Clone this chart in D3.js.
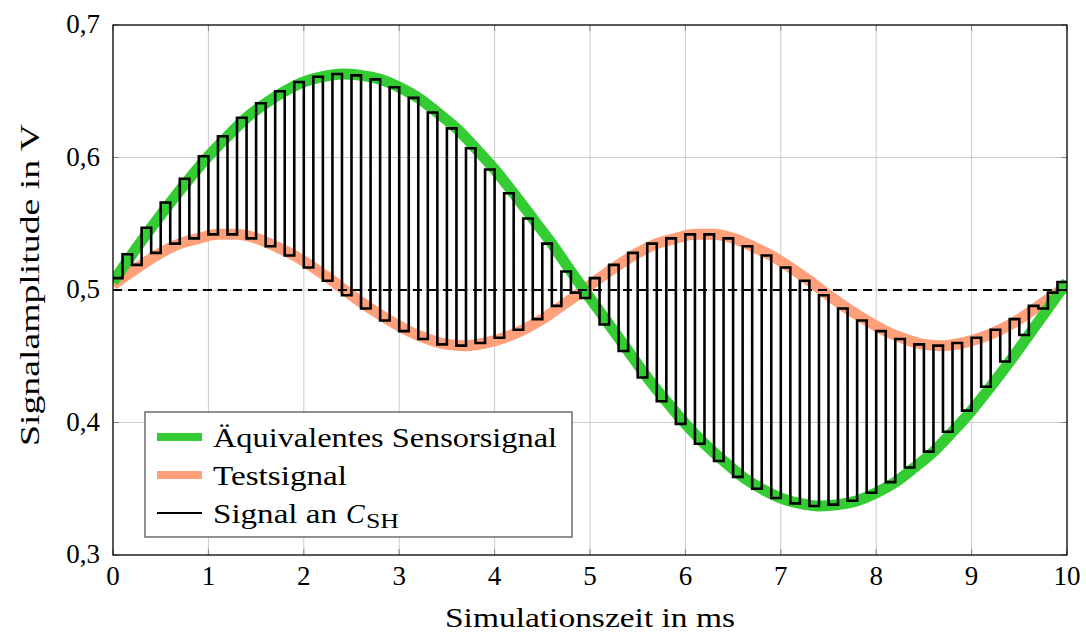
<!DOCTYPE html>
<html>
<head>
<meta charset="utf-8">
<script src="https://cdn.jsdelivr.net/npm/d3@7"></script>
<style>
  body { margin: 0; background: #fff; }
</style>
</head>
<body>
<svg id="vis" width="1086" height="633" font-family="'Liberation Serif', serif"></svg>
<script>
// axis ticks
const xTicks = [0, 1, 2, 3, 4, 5, 6, 7, 8, 9, 10]
const yTicks = [0.3, 0.4, 0.5, 0.6, 0.7]

// sensor signal (green), read every 0.2 ms
const greenTime = d3.range(0, 10.001, 0.2)
const greenVals = [0.506, 0.527, 0.547, 0.566, 0.584, 0.601, 0.616, 0.630, 0.641, 0.650,
  0.657, 0.661, 0.663, 0.662, 0.659, 0.653, 0.645, 0.634, 0.622, 0.607,
  0.591, 0.573, 0.554, 0.535, 0.514, 0.494, 0.474, 0.454, 0.434, 0.416,
  0.399, 0.384, 0.371, 0.359, 0.350, 0.343, 0.339, 0.337, 0.338, 0.341,
  0.347, 0.355, 0.366, 0.378, 0.393, 0.409, 0.427, 0.446, 0.466, 0.486, 0.506]

// test signal (orange), read at 0, 0.1, 0.3 ... 9.9, 10 ms
const orangeTime = [0, ...d3.range(0.1, 10, 0.2), 10]
const orangeVals = [0.504,
  0.509, 0.519, 0.528, 0.535, 0.539, 0.542, 0.542, 0.539, 0.533, 0.526,
  0.517, 0.507, 0.496, 0.486, 0.477, 0.469, 0.463, 0.459, 0.458, 0.460,
  0.464, 0.470, 0.478, 0.488, 0.498,
  0.509, 0.519, 0.528, 0.535, 0.539, 0.542, 0.542, 0.539, 0.533, 0.526,
  0.517, 0.507, 0.496, 0.486, 0.477, 0.469, 0.463, 0.459, 0.458, 0.460,
  0.464, 0.470, 0.478, 0.488, 0.498,
  0.504]

const refLevel = 0.5

const legendLabels = ["Äquivalentes Sensorsignal", "Testsignal", "Signal an"]
const green = "#33cc33"
const orange = "#ffa07a"

const svg = d3.select("#vis")
const margin = { top: 25, right: 19, bottom: 78, left: 113 }
const width = 1086 - margin.left - margin.right
const height = 633 - margin.top - margin.bottom

const x = d3.scaleLinear().domain([0, 10]).range([0, width])
const y = d3.scaleLinear().domain([0.3, 0.7]).range([height, 0])

const g = svg.append("g").attr("transform", `translate(${margin.left},${margin.top})`)

g.append("clipPath").attr("id", "clip")
  .append("rect").attr("width", width).attr("height", height)

// grid
g.append("g").selectAll("line").data(xTicks.slice(1, -1)).join("line")
  .attr("x1", d => x(d)).attr("x2", d => x(d)).attr("y1", 0).attr("y2", height)
  .attr("stroke", "#cccccc").attr("stroke-width", 1)
g.append("g").selectAll("line").data(yTicks.slice(1, -1)).join("line")
  .attr("y1", d => y(d)).attr("y2", d => y(d)).attr("x1", 0).attr("x2", width)
  .attr("stroke", "#cccccc").attr("stroke-width", 1)

// small inner tick marks
const tl = 6
g.append("g").selectAll("line").data(xTicks).join("line")
  .attr("x1", d => x(d)).attr("x2", d => x(d)).attr("y1", height).attr("y2", height - tl)
  .attr("stroke", "#888").attr("stroke-width", 1)
g.append("g").selectAll("line").data(xTicks).join("line")
  .attr("x1", d => x(d)).attr("x2", d => x(d)).attr("y1", 0).attr("y2", tl)
  .attr("stroke", "#888").attr("stroke-width", 1)
g.append("g").selectAll("line").data(yTicks).join("line")
  .attr("y1", d => y(d)).attr("y2", d => y(d)).attr("x1", 0).attr("x2", tl)
  .attr("stroke", "#888").attr("stroke-width", 1)
g.append("g").selectAll("line").data(yTicks).join("line")
  .attr("y1", d => y(d)).attr("y2", d => y(d)).attr("x1", width).attr("x2", width - tl)
  .attr("stroke", "#888").attr("stroke-width", 1)

const plot = g.append("g").attr("clip-path", "url(#clip)")

// thick smooth curves
const smooth = d3.line().x(d => x(d[0])).y(d => y(d[1])).curve(d3.curveMonotoneX)
plot.append("path")
  .datum(orangeTime.map((t, i) => [t, orangeVals[i]]))
  .attr("d", smooth).attr("fill", "none").attr("stroke", orange).attr("stroke-width", 11)
plot.append("path")
  .datum(greenTime.map((t, i) => [t, greenVals[i]]))
  .attr("d", smooth).attr("fill", "none").attr("stroke", green).attr("stroke-width", 11)

// reference line
plot.append("line")
  .attr("x1", 0).attr("x2", width).attr("y1", y(refLevel)).attr("y2", y(refLevel))
  .attr("stroke", "#000").attr("stroke-width", 2.2).attr("stroke-dasharray", "9,6")

// sample and hold signal: alternates test value and sensor value every 0.1 ms
const steps = []
for (let k = 0; k < 50; k++) {
  steps.push([greenTime[k], orangeVals[k + 1]])
  steps.push([orangeTime[k + 1], greenVals[k + 1]])
}
steps.push([10, greenVals[50]])
const stepLine = d3.line().x(d => x(d[0])).y(d => y(d[1])).curve(d3.curveStepAfter)
plot.append("path").datum(steps).attr("d", stepLine)
  .attr("fill", "none").attr("stroke", "#000").attr("stroke-width", 2.6).attr("stroke-linejoin", "miter")

// axis box
g.append("rect").attr("width", width).attr("height", height)
  .attr("fill", "none").attr("stroke", "#000").attr("stroke-width", 1.3)

// tick labels
const fmt = d => d3.format(".1f")(d).replace(".", ",")
g.append("g").selectAll("text").data(xTicks).join("text")
  .attr("x", d => x(d)).attr("y", height + 30)
  .attr("text-anchor", "middle").attr("font-size", 27).text(d => d)
g.append("g").selectAll("text").data(yTicks).join("text")
  .attr("x", -13).attr("y", d => y(d) + 8)
  .attr("text-anchor", "end").attr("font-size", 27).text(fmt)

// axis titles
g.append("text").attr("x", width / 2).attr("y", height + 72)
  .attr("text-anchor", "middle").attr("font-size", 28)
  .attr("textLength", 290).attr("lengthAdjust", "spacingAndGlyphs")
  .text("Simulationszeit in ms")
g.append("text").attr("transform", `translate(-74,${height / 2 - 5}) rotate(-90)`)
  .attr("text-anchor", "middle").attr("font-size", 28)
  .attr("textLength", 322).attr("lengthAdjust", "spacingAndGlyphs")
  .text("Signalamplitude in V")

// legend
const lg = g.append("g").attr("transform", "translate(32,387)")
lg.append("rect").attr("width", 427).attr("height", 125)
  .attr("fill", "#fff").attr("stroke", "#555").attr("stroke-width", 1.3)
const lgColors = [green, orange, "#000"]
const lgWidths = [8, 8, 2]
const lgLengths = [344, 134, 124]
legendLabels.forEach((lab, i) => {
  const cy = 25 + i * 38
  lg.append("line").attr("x1", 12).attr("x2", 57).attr("y1", cy).attr("y2", cy)
    .attr("stroke", lgColors[i]).attr("stroke-width", lgWidths[i])
  lg.append("text").attr("x", 68).attr("y", cy + 10).attr("font-size", 28)
    .attr("textLength", lgLengths[i]).attr("lengthAdjust", "spacingAndGlyphs").text(lab)
})
lg.append("text").attr("x", 201).attr("y", 25 + 2 * 38 + 10).attr("font-size", 28)
  .attr("font-style", "italic").text("C")
lg.append("text").attr("x", 221).attr("y", 25 + 2 * 38 + 15).attr("font-size", 20)
  .attr("textLength", 33).attr("lengthAdjust", "spacingAndGlyphs").text("SH")
</script>
</body>
</html>
